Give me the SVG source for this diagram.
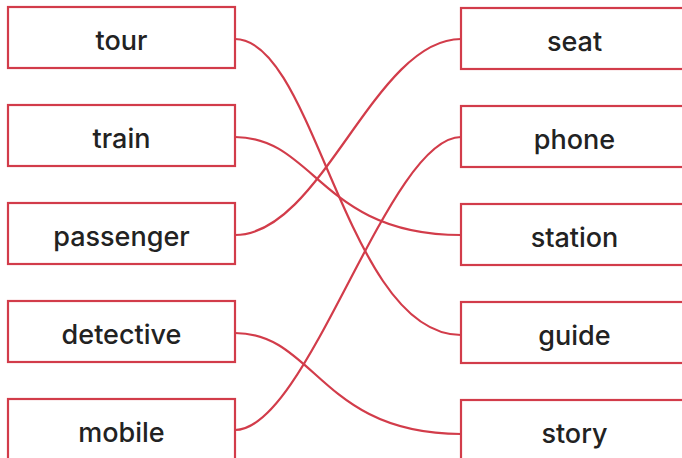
<svg xmlns="http://www.w3.org/2000/svg" width="682" height="458" viewBox="0 0 682 458">
<style>
.box{fill:#fff;stroke:#d23c4a;stroke-width:2.2}
.lbl{font-family:Inter,"Open Sans","Liberation Sans",sans-serif;font-size:27px;font-weight:500;fill:#222;text-anchor:middle}
.con{fill:none;stroke:#d23c4a;stroke-width:2.2}
</style>
<rect width="682" height="458" fill="#fff"/>
<g id="connectors">
<path class="con" d="M235,39 C315,39 346,335 461,335"/>
<path class="con" d="M235,137 C315,137 321,235 461,235"/>
<path class="con" d="M235,235 C322,235 374,39 461,39"/>
<path class="con" d="M235,333 C315,333 321,434 461,434"/>
<path class="con" d="M235,430 C308,430 388,137 461,137"/>
</g>
<g id="n-tour"><rect class="box" x="8" y="7" width="227" height="61"/><text class="lbl" x="121.5" y="50">tour</text></g>
<g id="n-train"><rect class="box" x="8" y="105" width="227" height="61"/><text class="lbl" x="121.5" y="148">train</text></g>
<g id="n-passenger"><rect class="box" x="8" y="203" width="227" height="61"/><text class="lbl" x="121.5" y="246">passenger</text></g>
<g id="n-detective"><rect class="box" x="8" y="301" width="227" height="61"/><text class="lbl" x="121.5" y="344">detective</text></g>
<g id="n-mobile"><rect class="box" x="8" y="399" width="227" height="61"/><text class="lbl" x="121.5" y="442">mobile</text></g>
<g id="n-seat"><rect class="box" x="461" y="8" width="227" height="61"/><text class="lbl" x="574.5" y="51">seat</text></g>
<g id="n-phone"><rect class="box" x="461" y="106" width="227" height="61"/><text class="lbl" x="574.5" y="149">phone</text></g>
<g id="n-station"><rect class="box" x="461" y="204" width="227" height="61"/><text class="lbl" x="574.5" y="247">station</text></g>
<g id="n-guide"><rect class="box" x="461" y="302" width="227" height="61"/><text class="lbl" x="574.5" y="345">guide</text></g>
<g id="n-story"><rect class="box" x="461" y="400" width="227" height="61"/><text class="lbl" x="574.5" y="443">story</text></g>
</svg>
